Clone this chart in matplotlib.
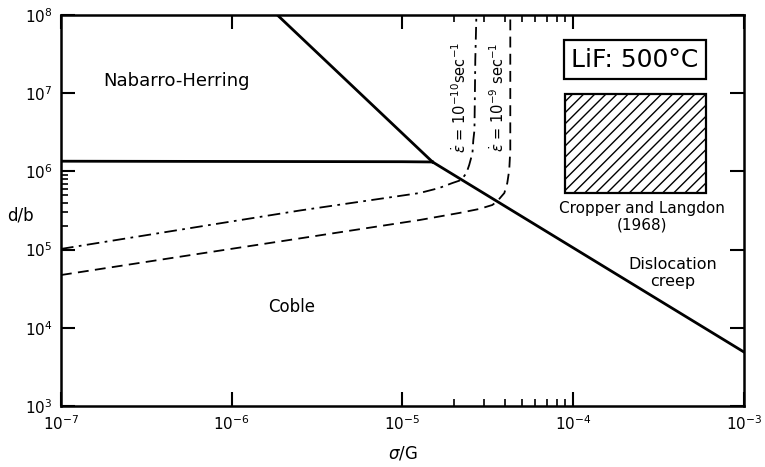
import numpy as np
import matplotlib
matplotlib.use("Agg")
import matplotlib.pyplot as plt
from matplotlib.patches import Rectangle
from matplotlib.ticker import FixedLocator, NullFormatter

# deformation map boundaries (sigma/G, d/b)
nh_coble_x = [1e-7, 1e-5, 1.5e-5]
nh_coble_y = [1.35e6, 1.33e6, 1.32e6]

nh_disl_x = [1.85e-6, 1.5e-5]
nh_disl_y = [1e8, 1.32e6]

coble_disl_x = [1.5e-5, 1e-3]
coble_disl_y = [1.32e6, 4.9e3]

# strain rate contour 1e-10 /sec (dash-dot)
rate10_x = [1e-7, 6.5e-7, 2.5e-6, 1.26e-5, 1.64e-5, 1.96e-5, 2.21e-5, 2.37e-5,
            2.46e-5, 2.57e-5, 2.60e-5, 2.64e-5, 2.67e-5, 2.71e-5]
rate10_y = [1.02e5, 1.97e5, 3.16e5, 5.29e5, 6.13e5, 7.1e5, 7.76e5, 9.55e5,
            1.21e6, 1.72e6, 2.52e6, 3.38e6, 2.66e7, 1e8]

# strain rate contour 1e-9 /sec (dashed)
rate9_x = [1e-7, 6.5e-7, 2.5e-6, 1.26e-5, 2.15e-5, 2.82e-5, 3.36e-5, 3.6e-5,
           3.95e-5, 4.11e-5, 4.22e-5, 4.28e-5, 4.28e-5, 4.28e-5]
rate9_y = [4.73e4, 8.87e4, 1.39e5, 2.39e5, 2.94e5, 3.31e5, 3.72e5, 4.18e5,
           5.29e5, 7.1e5, 1.04e6, 1.88e6, 3.38e6, 1e8]

# Cropper and Langdon (1968) experimental region
exp_x = [8.97e-5, 6.0e-4]
exp_y = [5.3e5, 9.8e6]

plt.rcParams['font.family'] = ['DejaVu Sans']
plt.rcParams['hatch.linewidth'] = 1.0

fig = plt.figure(figsize=(7.65, 4.67), dpi=100)
ax = fig.add_axes([0.0797, 0.1306, 0.8928, 0.8373])
ax.set_xscale('log')
ax.set_yscale('log')
ax.set_xlim(1e-7, 1e-3)
ax.set_ylim(1e3, 1e8)

# boundaries
ax.plot(nh_coble_x, nh_coble_y, color='black', lw=2)
ax.plot(nh_disl_x, nh_disl_y, color='black', lw=2)
ax.plot(coble_disl_x, coble_disl_y, color='black', lw=2)

# strain rate contours
ax.plot(rate10_x, rate10_y, color='black', lw=1.3, dashes=[7, 3, 1.5, 3])
ax.plot(rate9_x, rate9_y, color='black', lw=1.3, dashes=[6, 3.5])

# experimental box
ax.add_patch(Rectangle((exp_x[0], exp_y[0]), exp_x[1] - exp_x[0], exp_y[1] - exp_y[0],
                       fill=False, hatch='///', lw=1.6, edgecolor='black'))

# text labels
ax.text(0.1698, 0.8306, 'Nabarro-Herring', transform=ax.transAxes,
        ha='center', va='center', fontsize=13)
ax.text(0.3382, 0.2532, 'Coble', transform=ax.transAxes,
        ha='center', va='center', fontsize=12)
ax.text(0.8960, 0.3402, 'Dislocation\ncreep', transform=ax.transAxes,
        ha='center', va='center', fontsize=11.5, linespacing=1.15)
ax.text(0.8507, 0.4834, 'Cropper and Langdon\n(1968)', transform=ax.transAxes,
        ha='center', va='center', fontsize=11, linespacing=1.15)
ax.text(0.8404, 0.8849, 'LiF: 500°C', transform=ax.transAxes,
        ha='center', va='center', fontsize=18,
        bbox=dict(boxstyle='square,pad=0.3', fc='white', ec='black', lw=1.6))
ax.text(0.5843, 0.79, r'$\dot{\varepsilon}$ = 10$^{-10}$sec$^{-1}$',
        transform=ax.transAxes, ha='center', va='center', rotation=90, fontsize=10.5)
ax.text(0.6398, 0.79, r'$\dot{\varepsilon}$ = 10$^{-9}$ sec$^{-1}$',
        transform=ax.transAxes, ha='center', va='center', rotation=90, fontsize=10.5)

# axis labels
ax.set_xlabel(r'$\sigma$/G', fontsize=12, labelpad=8)
ax.set_ylabel('d/b', fontsize=12, rotation=0, va='center')
ax.yaxis.set_label_coords(-0.06, 0.488)

# ticks
ax.xaxis.set_major_locator(FixedLocator([1e-7, 1e-6, 1e-5, 1e-4, 1e-3]))
ax.yaxis.set_major_locator(FixedLocator([1e3, 1e4, 1e5, 1e6, 1e7, 1e8]))
ax.xaxis.set_minor_locator(FixedLocator([k * 1e-5 for k in range(2, 10)]))
ax.yaxis.set_minor_locator(FixedLocator([k * 1e5 for k in range(2, 10)]))
ax.xaxis.set_minor_formatter(NullFormatter())
ax.yaxis.set_minor_formatter(NullFormatter())
ax.tick_params(which='major', direction='in', length=10, width=1.5,
               top=True, right=True, labelsize=11, pad=6)
ax.tick_params(which='minor', direction='in', length=5, width=1.2,
               top=True, right=False)

for sp in ax.spines.values():
    sp.set_linewidth(1.8)

fig.savefig('out.png', dpi=100)
